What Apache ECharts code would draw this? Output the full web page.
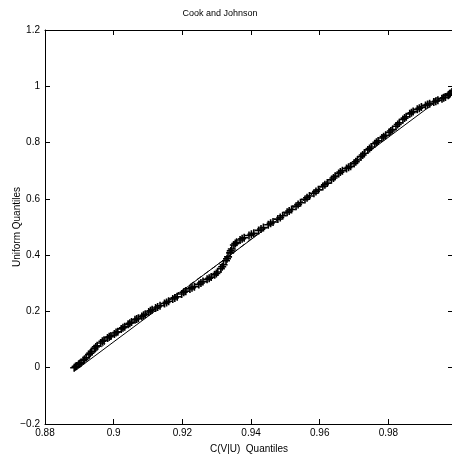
<!DOCTYPE html>
<html>
<head>
    <meta charset="utf-8">
    <title>Cook and Johnson</title>
    <script src="https://cdn.jsdelivr.net/npm/echarts@6/dist/echarts.min.js"></script>
    <style>
        html, body { margin: 0; padding: 0; background: #fff; }
    </style>
</head>
<body>
<div id="main" style="width: 452px;height: 457px;"></div>
<script>
    // empirical quantiles C(V|U) vs uniform quantiles
    var quantX = [
        0.8885, 0.8892, 0.8898, 0.8905, 0.8912, 0.8920, 0.8928, 0.8936, 0.8944, 0.8952,
        0.8962, 0.8972, 0.8982, 0.8992, 0.9002, 0.9012, 0.9022, 0.9032, 0.9042, 0.9052,
        0.9062, 0.9072, 0.9082, 0.9092, 0.9102, 0.9112, 0.9122, 0.9135, 0.9148, 0.9160,
        0.9172, 0.9185, 0.9198, 0.9210, 0.9222, 0.9235, 0.9248, 0.9260, 0.9272, 0.9284,
        0.9294, 0.9303, 0.9312, 0.9320, 0.9327, 0.9333, 0.9339, 0.9344, 0.9350, 0.9358,
        0.9368, 0.9380, 0.9394, 0.9408, 0.9422, 0.9436, 0.9450, 0.9464, 0.9478, 0.9492,
        0.9505, 0.9518, 0.9531, 0.9544, 0.9557, 0.9570, 0.9583, 0.9596, 0.9609, 0.9622,
        0.9634, 0.9645, 0.9655, 0.9666, 0.9678, 0.9690, 0.9700, 0.9710, 0.9720, 0.9730,
        0.9740, 0.9750, 0.9760, 0.9770, 0.9781, 0.9792, 0.9802, 0.9812, 0.9822, 0.9832,
        0.9842, 0.9852, 0.9862, 0.9872, 0.9884, 0.9896, 0.9908, 0.9920, 0.9932, 0.9944,
        0.9956, 0.9966, 0.9974, 0.9980, 0.9985
    ];
    var quantY = [
        0.000, 0.006, 0.012, 0.018, 0.026, 0.036, 0.046, 0.058, 0.068, 0.078,
        0.088, 0.098, 0.106, 0.113, 0.120, 0.128, 0.138, 0.146, 0.154, 0.162,
        0.170, 0.176, 0.182, 0.190, 0.198, 0.206, 0.212, 0.220, 0.228, 0.236,
        0.244, 0.252, 0.262, 0.272, 0.280, 0.288, 0.296, 0.306, 0.314, 0.322,
        0.330, 0.340, 0.352, 0.366, 0.380, 0.394, 0.408, 0.422, 0.436, 0.446,
        0.454, 0.462, 0.470, 0.478, 0.488, 0.498, 0.508, 0.518, 0.528, 0.540,
        0.552, 0.562, 0.574, 0.586, 0.598, 0.610, 0.620, 0.632, 0.644, 0.656,
        0.668, 0.680, 0.690, 0.700, 0.708, 0.716, 0.726, 0.738, 0.750, 0.762,
        0.774, 0.784, 0.796, 0.806, 0.816, 0.826, 0.836, 0.846, 0.858, 0.870,
        0.882, 0.892, 0.902, 0.910, 0.918, 0.926, 0.932, 0.938, 0.944, 0.950,
        0.956, 0.962, 0.968, 0.974, 0.980
    ];
    // second half of the sample (points lying between the first ones)
    var quantX2 = [
        0.8889, 0.8901, 0.8915, 0.8932, 0.8948, 0.8967, 0.8987, 0.9007, 0.9027, 0.9047,
        0.9067, 0.9087, 0.9107, 0.9128, 0.9154, 0.9178, 0.9204, 0.9228, 0.9254, 0.9278,
        0.9299, 0.9316, 0.9330, 0.9341, 0.9354, 0.9374, 0.9401, 0.9429, 0.9457, 0.9485,
        0.9511, 0.9537, 0.9563, 0.9589, 0.9615, 0.9640, 0.9660, 0.9684, 0.9705, 0.9725,
        0.9745, 0.9765, 0.9786, 0.9807, 0.9827, 0.9847, 0.9867, 0.9890, 0.9914, 0.9938,
        0.9961, 0.9977, 0.9988
    ];
    var quantY2 = [
        0.004, 0.014, 0.030, 0.052, 0.074, 0.094, 0.110, 0.125, 0.142, 0.158,
        0.173, 0.186, 0.202, 0.216, 0.232, 0.248, 0.268, 0.284, 0.301, 0.318,
        0.335, 0.359, 0.387, 0.415, 0.441, 0.458, 0.474, 0.493, 0.513, 0.534,
        0.557, 0.580, 0.604, 0.626, 0.650, 0.674, 0.695, 0.712, 0.732, 0.756,
        0.779, 0.801, 0.821, 0.841, 0.864, 0.887, 0.906, 0.922, 0.935, 0.947,
        0.959, 0.971, 0.984
    ];
    // straight reference line
    var refX = [0.8888, 0.9988];
    var refY = [-0.01, 0.99];
    // dashed fitted curve
    var fitX = [0.8885, 0.895, 0.905, 0.915, 0.925, 0.935, 0.945, 0.955, 0.965, 0.975, 0.985, 0.9988];
    var fitY = [-0.01, 0.06, 0.155, 0.235, 0.32, 0.41, 0.505, 0.595, 0.69, 0.785, 0.895, 0.985];

    var xTicks = [0.88, 0.9, 0.92, 0.94, 0.96, 0.98];

    function pairs(xs, ys) {
        var out = [];
        for (var i = 0; i < xs.length; i++) out.push([xs[i], ys[i]]);
        return out;
    }

    var font = 'Liberation Sans, Arial, sans-serif';
    var plus = 'path://M4,0H6V4H10V6H6V10H4V6H0V4H4Z';

    var myChart = echarts.init(document.getElementById('main'));
    var option = {
        animation: false,
        title: {
            text: 'Cook and Johnson',
            left: 215,
            top: 4,
            textAlign: 'center',
            textStyle: { fontFamily: font, fontSize: 9, fontWeight: 'normal', color: '#000' }
        },
        grid: { left: 45, top: 30, right: -1, bottom: 33, outerBoundsMode: 'none', containLabel: false },
        xAxis: [{
            type: 'value',
            min: 0.88,
            max: 0.9988,
            interval: 0.02,
            name: 'C(V|U)  Quantiles',
            nameLocation: 'middle',
            nameGap: 20,
            nameMoveOverlap: false,
            nameTextStyle: { fontFamily: font, fontSize: 10, color: '#000' },
            axisLine: { onZero: false, lineStyle: { color: '#000', width: 1 } },
            axisTick: { inside: true, length: 5, lineStyle: { color: '#000' } },
            splitLine: { show: false },
            axisLabel: {
                fontFamily: font, fontSize: 10, color: '#000', margin: 4, showMaxLabel: false,
                formatter: function (v) {
                    for (var i = 0; i < xTicks.length; i++) {
                        if (Math.abs(v - xTicks[i]) < 1e-6) return String(xTicks[i]);
                    }
                    return '';
                }
            }
        }, {
            type: 'value',
            position: 'top',
            min: 0.88,
            max: 0.9988,
            interval: 0.02,
            axisLine: { onZero: false, lineStyle: { color: '#000', width: 1 } },
            axisTick: { inside: true, length: 5, lineStyle: { color: '#000' } },
            axisLabel: { show: false },
            splitLine: { show: false }
        }],
        yAxis: [{
            type: 'value',
            min: -0.2,
            max: 1.2,
            interval: 0.2,
            name: 'Uniform Quantiles',
            nameLocation: 'middle',
            nameGap: 23,
            nameMoveOverlap: false,
            nameTextStyle: { fontFamily: font, fontSize: 10, color: '#000' },
            axisLine: { onZero: false, lineStyle: { color: '#000', width: 1 } },
            axisTick: { inside: true, length: 5, lineStyle: { color: '#000' } },
            splitLine: { show: false },
            axisLabel: {
                fontFamily: font, fontSize: 10, color: '#000', margin: 5,
                formatter: function (v) {
                    var s = String(Math.round(v * 10) / 10);
                    return s.replace('-', '\u2212');
                }
            }
        }, {
            type: 'value',
            position: 'right',
            min: -0.2,
            max: 1.2,
            interval: 0.2,
            axisLine: { onZero: false, lineStyle: { color: '#000', width: 1 } },
            axisTick: { inside: true, length: 5, lineStyle: { color: '#000' } },
            axisLabel: { show: false },
            splitLine: { show: false }
        }],
        series: [
            {
                name: 'fit',
                type: 'line',
                data: pairs(fitX, fitY),
                showSymbol: false,
                smooth: true,
                lineStyle: { color: '#000', width: 1, type: [5, 4] }
            },
            {
                name: 'reference',
                type: 'line',
                data: pairs(refX, refY),
                showSymbol: false,
                lineStyle: { color: '#000', width: 1 }
            },
            {
                name: 'quantiles',
                type: 'scatter',
                data: pairs(quantX, quantY).concat(pairs(quantX2, quantY2)),
                symbol: plus,
                symbolSize: 8,
                itemStyle: { color: '#000', opacity: 1 }
            }
        ]
    };
    myChart.setOption(option);
</script>
</body>
</html>
